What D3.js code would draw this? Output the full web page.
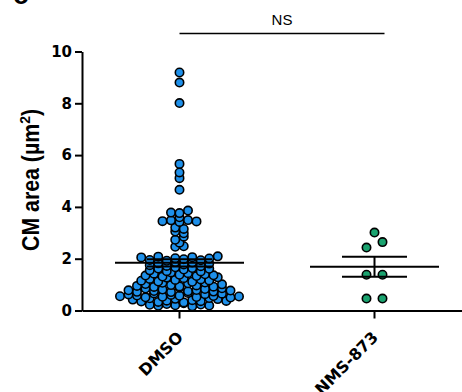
<!DOCTYPE html>
<html>
<head>
<meta charset="utf-8">
<script src="https://cdn.jsdelivr.net/npm/d3@7"></script>
<style>
  body { margin: 0; background: #fff; }
</style>
</head>
<body>
<div id="chart"></div>
<script>
// groups and values
const groups = ["DMSO", "NMS-873"];

const dmsoValues = [
  0.22, 0.18, 0.25, 0.20, 0.28, 0.16, 0.23, 0.19,
  0.42, 0.35, 0.47, 0.33, 0.38, 0.45, 0.31, 0.40, 0.36, 0.48, 0.44, 0.37,
  0.55, 0.62, 0.58, 0.51, 0.66, 0.53, 0.60, 0.57, 0.68, 0.52, 0.63, 0.56, 0.65, 0.50, 0.54,
  0.78, 0.72, 0.85, 0.75, 0.81, 0.71, 0.88, 0.74, 0.79, 0.83, 0.73, 0.86, 0.77,
  0.95, 1.02, 0.91, 1.07, 0.98, 0.93, 1.05, 0.97, 1.08, 0.92, 1.01,
  1.15, 1.22, 1.12, 1.27, 1.18, 1.25, 1.11, 1.20, 1.16, 1.28,
  1.35, 1.42, 1.31, 1.47, 1.38, 1.44, 1.33, 1.40, 1.36,
  1.55, 1.62, 1.52, 1.67, 1.58, 1.64, 1.51, 1.61,
  1.75, 1.82, 1.72, 1.87, 1.78, 1.85, 1.71, 1.81,
  2.05, 1.95, 2.08, 1.92, 2.02, 1.98, 2.06, 1.94, 2.01, 2.09,
  2.46, 2.48,
  2.62,
  2.73, 2.85,
  3.05, 2.98,
  3.20, 3.15,
  3.45, 3.48, 3.42, 3.49, 3.44,
  3.60,
  3.78, 3.76, 3.86,
  4.66, 5.11, 5.33, 5.66, 8.01, 8.80, 9.19
];

const nmsValues = [3.01, 2.43, 2.64, 1.38, 1.38, 0.46, 0.46];

// mean and SEM as drawn in the figure
const meanValues = [1.84, 1.69];
const semValues = [0.14, 0.39];

const yTicks = [0, 2, 4, 6, 8, 10];

const width = 462, height = 392;

const svg = d3.select("#chart")
  .append("svg")
  .attr("width", width)
  .attr("height", height);

const y = d3.scaleLinear().domain([0, 10]).range([310.5, 51.5]);
const x = d3.scaleBand().domain(groups).range([82, 472]);
const cx = g => x(g) + x.bandwidth() / 2;

// GraphPad-like scatter: values binned into rows, spread side by side
function scatterLayout(values, center, binSize, spacing) {
  const bins = d3.group(values, v => Math.floor(v / binSize + 1e-9));
  const pts = [];
  bins.forEach(list => {
    list.forEach((v, k) => {
      pts.push({value: v, x: center + (k - (list.length - 1) / 2) * spacing});
    });
  });
  return pts;
}

const dmsoPts = scatterLayout(dmsoValues.map(v => v - 0.1), cx("DMSO"), 0.2, 8.5)
  .map(p => ({value: p.value + 0.1, x: p.x}));
const nmsPts = scatterLayout(nmsValues, cx("NMS-873"), 0.4, 16);

// panel letter, mostly cut off at the top
svg.append("text")
  .attr("x", 13)
  .attr("y", 4)
  .attr("font-family", "Liberation Sans, Arial, sans-serif")
  .attr("font-weight", "bold")
  .attr("font-size", 28)
  .text("c");

// y axis
svg.append("g")
  .attr("transform", "translate(82,0)")
  .call(d3.axisLeft(y).tickValues(yTicks).tickSize(7).tickSizeOuter(0).tickPadding(3))
  .call(g => g.selectAll("path, line").attr("stroke", "#000").attr("stroke-width", 2))
  .call(g => g.selectAll("text")
    .attr("fill", "#000")
    .attr("font-family", "DejaVu Sans, sans-serif")
    .attr("font-weight", "bold")
    .attr("font-size", 15));

// x axis
svg.append("g")
  .attr("transform", "translate(0,310.5)")
  .call(d3.axisBottom(x).tickSize(8).tickSizeOuter(0))
  .call(g => g.selectAll("path, line").attr("stroke", "#000").attr("stroke-width", 2))
  .call(g => g.selectAll("text")
    .attr("fill", "#000")
    .attr("font-family", "DejaVu Sans, sans-serif")
    .attr("font-weight", "bold")
    .attr("font-size", 16)
    .attr("x", 0).attr("y", 0).attr("dy", 0)
    .attr("text-anchor", "end")
    .attr("transform", "translate(4.5,28) rotate(-45)"));

// y axis title
const title = svg.append("text")
  .attr("transform", "translate(38.5,180) rotate(-90)")
  .attr("text-anchor", "middle")
  .attr("font-family", "Liberation Sans, Arial, sans-serif")
  .attr("font-weight", "bold")
  .attr("font-size", 23)
  .attr("textLength", 142)
  .attr("lengthAdjust", "spacingAndGlyphs");
title.append("tspan").text("CM area (µm");
title.append("tspan").attr("dy", -9).attr("font-size", 15).text("2");
title.append("tspan").attr("dy", 9).text(")");

// dots
svg.append("g").selectAll("circle")
  .data(dmsoPts)
  .join("circle")
  .attr("cx", d => d.x)
  .attr("cy", d => y(d.value))
  .attr("r", 4.2)
  .attr("fill", "#1e90ea")
  .attr("stroke", "#000")
  .attr("stroke-width", 1.6);

svg.append("g").selectAll("circle")
  .data(nmsPts)
  .join("circle")
  .attr("cx", d => d.x)
  .attr("cy", d => y(d.value))
  .attr("r", 4.2)
  .attr("fill", "#1aa36f")
  .attr("stroke", "#000")
  .attr("stroke-width", 1.6);

// mean +/- SEM
const stats = groups.map((g, i) => ({group: g, mean: meanValues[i], sem: semValues[i]}));
const bars = svg.append("g").attr("stroke", "#000").attr("stroke-width", 2);

bars.selectAll(".mean")
  .data(stats)
  .join("line")
  .attr("x1", d => cx(d.group) - 64.5)
  .attr("x2", d => cx(d.group) + 64.5)
  .attr("y1", d => y(d.mean))
  .attr("y2", d => y(d.mean));

bars.selectAll(".semhi")
  .data(stats)
  .join("line")
  .attr("x1", d => cx(d.group) - 32.5)
  .attr("x2", d => cx(d.group) + 32.5)
  .attr("y1", d => y(d.mean + d.sem))
  .attr("y2", d => y(d.mean + d.sem));

bars.selectAll(".semlo")
  .data(stats)
  .join("line")
  .attr("x1", d => cx(d.group) - 32.5)
  .attr("x2", d => cx(d.group) + 32.5)
  .attr("y1", d => y(d.mean - d.sem))
  .attr("y2", d => y(d.mean - d.sem));

bars.selectAll(".semv")
  .data(stats)
  .join("line")
  .attr("x1", d => cx(d.group))
  .attr("x2", d => cx(d.group))
  .attr("y1", d => y(d.mean + d.sem))
  .attr("y2", d => y(d.mean - d.sem));

// significance bracket
svg.append("line")
  .attr("x1", cx("DMSO"))
  .attr("x2", cx("NMS-873") + 10)
  .attr("y1", 33.5)
  .attr("y2", 33.5)
  .attr("stroke", "#000")
  .attr("stroke-width", 1.5);

svg.append("text")
  .attr("x", (cx("DMSO") + cx("NMS-873") + 10) / 2)
  .attr("y", 25)
  .attr("text-anchor", "middle")
  .attr("font-family", "Liberation Sans, Arial, sans-serif")
  .attr("font-size", 15)
  .text("NS");
</script>
</body>
</html>
